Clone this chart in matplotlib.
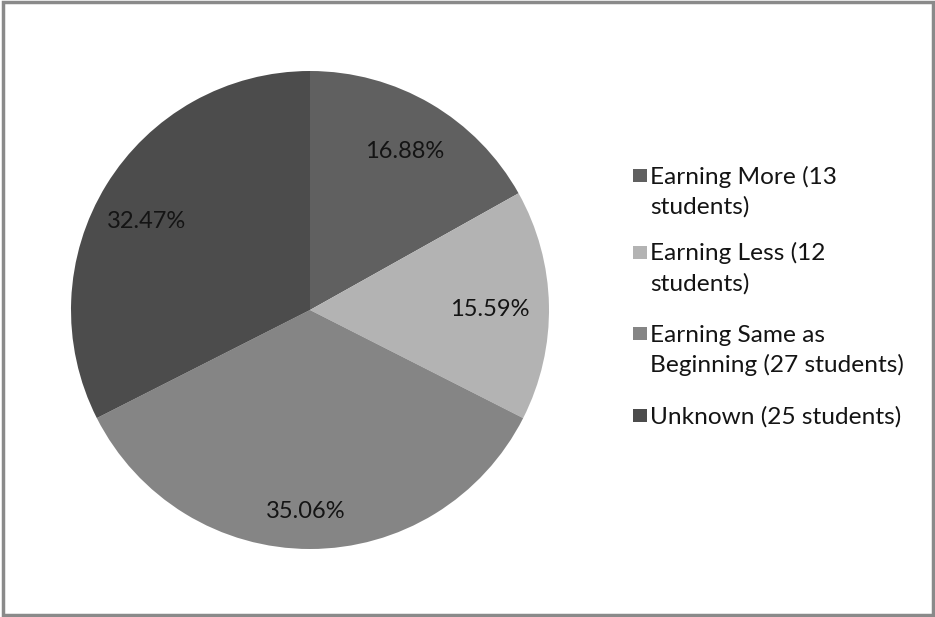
import matplotlib
matplotlib.use("Agg")
import matplotlib.pyplot as plt
from matplotlib.patches import Rectangle

categories = ["Earning More (13\nstudents)", "Earning Less (12\nstudents)",
              "Earning Same as\nBeginning (27 students)", "Unknown (25 students)"]
students = [13, 12, 27, 25]
percents = [16.88, 15.59, 35.06, 32.47]
colors = ["#606060", "#b3b3b3", "#858585", "#4c4c4c"]

W, H = 935, 617
fig = plt.figure(figsize=(W / 100, H / 100), dpi=100)
fig.patch.set_facecolor("white")

font = ["Lato", "DejaVu Sans"]
FS = 17
FS_LEG = 17.6

# outer frame
fig.add_artist(Rectangle((3 / W, 2 / H), (W - 5) / W, (H - 4) / H,
                         transform=fig.transFigure, fill=False,
                         edgecolor="#8a8a8a", linewidth=2.5))

cx, cy, r = 310, 310, 239
ax = fig.add_axes([(cx - r) / W, (H - cy - r) / H, 2 * r / W, 2 * r / H])
wedges, texts = ax.pie(percents, colors=colors, startangle=90, counterclock=False,
                       radius=1.0, labels=[f"{p:.2f}%" for p in percents],
                       labeldistance=0.77,
                       textprops=dict(fontsize=FS, color="#141414", family=font))
# data-label anchor points (pixel centres inside each slice)
label_px = [(405, 151), (490, 309), (306, 512), (147, 222)]
for t, (px, py) in zip(texts, label_px):
    t.set_ha("center")
    t.set_va("center")
    t.set_position(((px - cx) / r, (cy - py) / r))
ax.set_xlim(-1, 1)
ax.set_ylim(-1, 1)
ax.set_aspect("equal")
ax.axis("off")

# legend, one line of text at a time
line_centres = [(175, 205), (252, 282), (333, 363), (415,)]
for lab, col, ys in zip(categories, colors, line_centres):
    fig.add_artist(Rectangle((633 / W, (H - ys[0] - 6.5) / H), 14 / W, 13 / H,
                             transform=fig.transFigure, facecolor=col, edgecolor="none"))
    for line, y in zip(lab.split("\n"), ys):
        fig.text(650 / W, (H - y - 8.5) / H, line, fontsize=FS_LEG, family=font,
                 color="#141414", ha="left", va="baseline")

fig.savefig("out.png", dpi=100, facecolor="white")
